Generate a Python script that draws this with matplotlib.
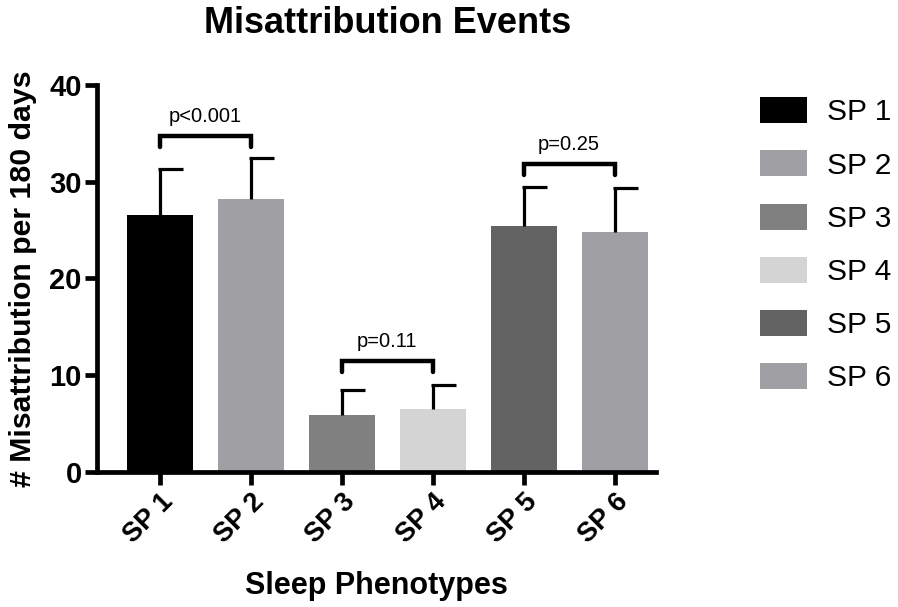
import numpy as np
import matplotlib.pyplot as plt
from matplotlib.patches import Patch

plt.rcParams["font.family"] = ["Liberation Sans", "DejaVu Sans"]

CATEGORIES = ["SP 1", "SP 2", "SP 3", "SP 4", "SP 5", "SP 6"]
MEANS = [26.5, 28.2, 5.9, 6.5, 25.4, 24.8]
UPPER_ERR = [4.8, 4.2, 2.5, 2.5, 4.0, 4.5]
COLORS = ["#000000", "#a0a0a4", "#808080", "#d4d4d4", "#636363", "#a0a0a4"]

# (left bar, right bar, bracket height, label)
COMPARISONS = [
    (0, 1, 34.7, "p<0.001"),
    (2, 3, 11.4, "p=0.11"),
    (4, 5, 31.8, "p=0.25"),
]


def main():
    fig = plt.figure(figsize=(8.98, 6.07), dpi=100)
    ax = fig.add_axes([0.108, 0.223, 0.622, 0.637])

    x = np.arange(len(CATEGORIES))

    ax.bar(x, MEANS, width=0.725, color=COLORS, zorder=2)

    # upper error bars, Prism style (cap to the right)
    tops = np.array(MEANS) + np.array(UPPER_ERR)
    ax.vlines(x, MEANS, tops, color="black", lw=2.3, zorder=3)
    ax.hlines(tops, x - 0.02, x + 0.26, color="black", lw=2.3, zorder=3)

    for left, right, h, label in COMPARISONS:
        ax.plot(
            [x[left], x[left], x[right], x[right]],
            [h - 1.1, h, h, h - 1.1],
            color="black",
            lw=3.2,
            solid_capstyle="round",
            solid_joinstyle="miter",
            zorder=4,
        )
        ax.text(
            (x[left] + x[right]) / 2,
            h + 1.1,
            label,
            ha="center",
            va="bottom",
            fontsize=14.5,
        )

    ax.set_xlim(-0.69, 5.45)
    ax.set_ylim(0, 40)
    ax.set_yticks([0, 10, 20, 30, 40])

    for side in ["top", "right"]:
        ax.spines[side].set_visible(False)
    for side in ["left", "bottom"]:
        ax.spines[side].set_linewidth(3.4)

    ax.tick_params(axis="both", width=3.4, length=9, labelsize=19.5)
    ax.tick_params(axis="y", pad=2, labelsize=21)
    ax.set_xticks(x)
    ax.set_xticklabels(
        CATEGORIES,
        rotation=45,
        ha="right",
        rotation_mode="anchor",
        fontweight="bold",
    )
    for lbl in ax.get_yticklabels():
        lbl.set_fontweight("bold")

    ax.set_xlabel("Sleep Phenotypes", fontsize=22, fontweight="bold", labelpad=16)
    ax.set_ylabel("# Misattribution per 180 days", fontsize=21.8, fontweight="bold")
    ax.yaxis.set_label_coords(-0.108, 0.5)
    fig.suptitle("Misattribution Events", x=0.432, y=0.99, fontsize=26, fontweight="bold")

    handles = [Patch(facecolor=c, edgecolor="none") for c in COLORS]
    fig.legend(
        handles,
        CATEGORIES,
        loc="upper left",
        bbox_to_anchor=(0.846, 0.84),
        frameon=False,
        fontsize=21.5,
        borderpad=0,
        borderaxespad=0,
        handlelength=1.6,
        handleheight=0.97,
        labelspacing=0.8,
        handletextpad=0.65,
    )

    fig.savefig("out.png", dpi=100)
    plt.close(fig)


if __name__ == "__main__":
    main()
